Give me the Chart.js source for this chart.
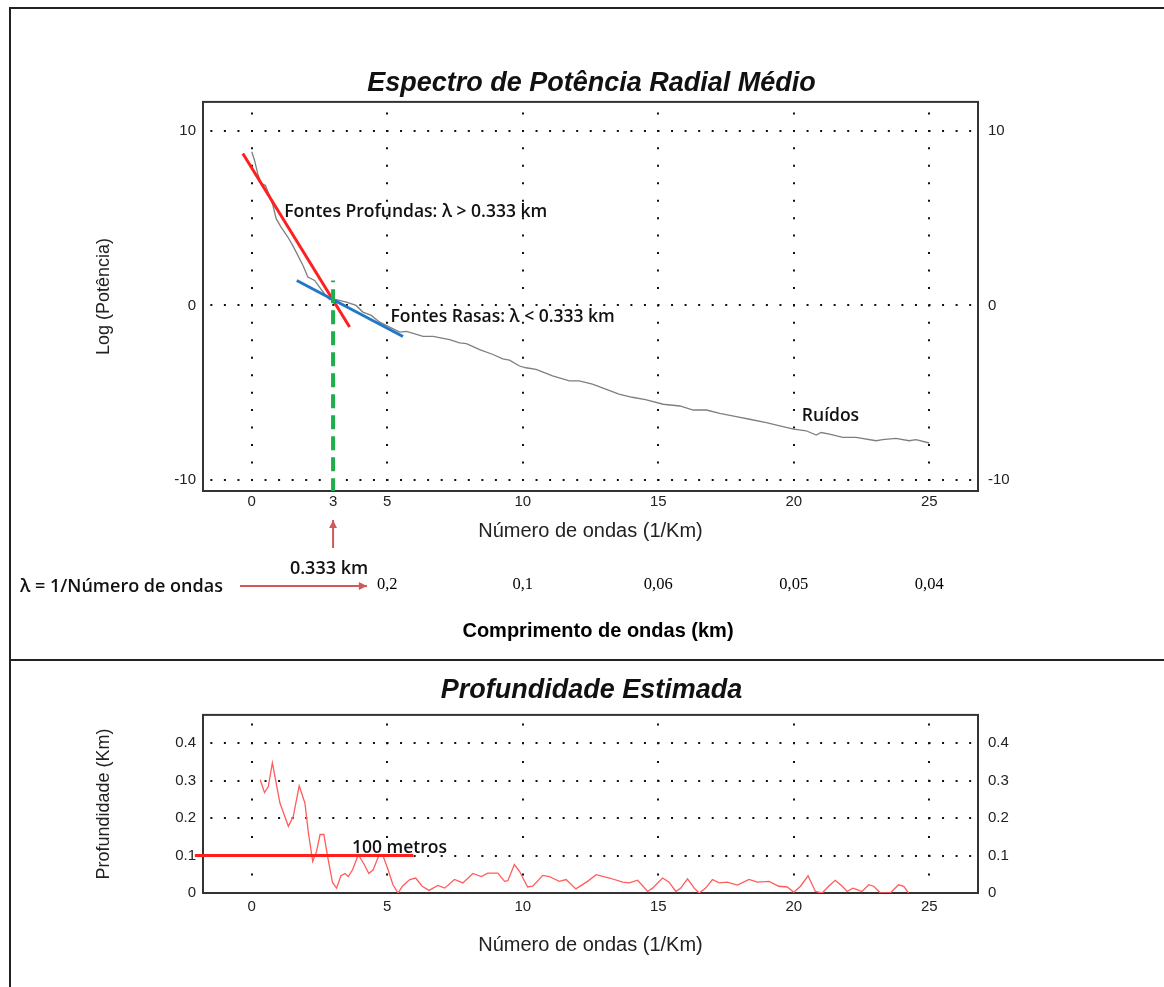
<!DOCTYPE html>
<html>
<head>
<meta charset="utf-8">
<script src="https://cdn.jsdelivr.net/npm/chart.js@4.4.1/dist/chart.umd.min.js"></script>
<style>
  body { margin: 0; background: #fff; }
  #page { position: relative; width: 1164px; height: 987px; overflow: hidden; background: #fff; }
  canvas { position: absolute; left: 0; }
  .rule { position: absolute; background: #222; }
</style>
</head>
<body>
<div id="page">
  <canvas id="spectrum" width="1164" height="658" style="top:0"></canvas>
  <canvas id="depth" width="1164" height="325" style="top:662px"></canvas>
  <div class="rule" style="left:10px;top:7px;width:1154px;height:2px"></div>
  <div class="rule" style="left:9px;top:7px;width:2px;height:980px"></div>
  <div class="rule" style="left:10px;top:659px;width:1154px;height:2px"></div>
</div>
<script>
// Espectro de potencia radial medio (log) x numero de ondas
const waveNumber = [0.0, 0.1, 0.22, 0.345, 0.5, 0.65, 0.78, 0.9, 1.08, 1.33, 1.51, 1.7, 1.89, 2.07, 2.32, 2.5, 2.68, 2.87, 3.12, 3.49,
  3.85, 4.1, 4.41, 4.72, 5.09, 5.46, 5.71, 6.32, 6.69, 7.3, 7.67, 7.92, 8.41, 8.9, 9.26, 9.51, 9.88, 10.12, 10.49, 11.1,
  11.72, 12.08, 12.57, 13.06, 13.55, 14.04, 14.53, 15.18, 15.8, 16.29, 16.78, 17.27, 17.88, 18.37, 18.99, 19.6, 20.0, 20.46, 20.83, 21.01,
  21.32, 21.81, 22.3, 23.04, 23.28, 23.77, 24.26, 24.51, 25.0];
const logPower = [8.8, 8.32, 7.55, 6.98, 6.88, 6.31, 5.74, 4.97, 4.49, 3.92, 3.44, 2.87, 2.29, 1.63, 1.43, 1.05, 0.67, 0.33, 0.33, 0.19,
  0.0, -0.38, -0.57, -0.96, -1.24, -1.53, -1.49, -1.77, -1.77, -1.96, -2.15, -2.19, -2.53, -2.81, -3.06, -3.13, -3.47, -3.57, -3.66, -4.04,
  -4.32, -4.32, -4.51, -4.79, -5.08, -5.26, -5.4, -5.66, -5.76, -5.99, -5.99, -6.18, -6.37, -6.52, -6.71, -6.94, -7.09, -7.18, -7.43, -7.28,
  -7.37, -7.56, -7.56, -7.75, -7.69, -7.62, -7.75, -7.69, -7.88];

// retas ajustadas e corte em 3 (1/km)
const deepFitX = [-0.33, 3.61];
const deepFitY = [8.7, -1.24];
const shallowFitX = [1.66, 5.58];
const shallowFitY = [1.43, -1.78];
const cutX = [3, 3];
const cutY = [-10.7, 1.43];

const spectrumTicksX = [0, 3, 5, 10, 15, 20, 25];
const spectrumTicksY = [-10, 0, 10];
const wavelengthAt = [5, 10, 15, 20, 25];
const wavelengthLabels = ['0,2', '0,1', '0,06', '0,05', '0,04'];

// Profundidade estimada
const depthX = [0.31, 0.47, 0.61, 0.76, 1.04, 1.35, 1.53, 1.75, 1.96, 2.09, 2.25, 2.39, 2.52, 2.66, 2.82, 2.98, 3.13, 3.29, 3.44, 3.56,
  3.72, 3.93, 4.15, 4.32, 4.48, 4.7, 4.85, 5.03, 5.21, 5.4, 5.56, 5.83, 6.05, 6.29, 6.54, 6.87, 7.12, 7.48, 7.79, 8.16,
  8.47, 8.71, 9.08, 9.33, 9.45, 9.69, 9.88, 10.18, 10.37, 10.74, 10.98, 11.35, 11.6, 11.96, 12.39, 12.71, 13.2, 13.69, 13.93, 14.24,
  14.61, 14.79, 15.16, 15.4, 15.65, 15.83, 16.08, 16.33, 16.51, 16.75, 17.0, 17.25, 17.55, 17.92, 18.35, 18.66, 19.09, 19.45, 19.76, 20.0,
  20.25, 20.53, 20.8, 21.05, 21.29, 21.53, 21.79, 21.97, 22.18, 22.34, 22.52, 22.77, 22.95, 23.2, 23.56, 23.87, 24.06, 24.24];
const depthY = [0.302, 0.268, 0.284, 0.347, 0.24, 0.178, 0.204, 0.286, 0.24, 0.16, 0.084, 0.111, 0.156, 0.156, 0.089, 0.028, 0.013, 0.046, 0.052, 0.044,
  0.062, 0.102, 0.076, 0.052, 0.062, 0.102, 0.098, 0.062, 0.022, 0.0, 0.018, 0.036, 0.04, 0.018, 0.007, 0.02, 0.013, 0.036, 0.027, 0.052,
  0.044, 0.053, 0.053, 0.031, 0.033, 0.076, 0.058, 0.016, 0.018, 0.047, 0.044, 0.031, 0.036, 0.011, 0.031, 0.049, 0.04, 0.029, 0.027, 0.034,
  0.004, 0.013, 0.04, 0.029, 0.004, 0.013, 0.038, 0.013, 0.0, 0.013, 0.036, 0.027, 0.029, 0.021, 0.036, 0.029, 0.031, 0.018, 0.016, 0.002,
  0.018, 0.046, 0.004, 0.0, 0.018, 0.034, 0.018, 0.004, 0.013, 0.009, 0.004, 0.022, 0.018, 0.0, 0.0, 0.022, 0.018, 0.0];
const limitX = [-2.1, 5.96];
const limitY = [0.1, 0.1];

const depthTicksX = [0, 5, 10, 15, 20, 25];
const depthTicksY = [0, 0.1, 0.2, 0.3, 0.4];

const pts = (xs, ys) => xs.map((x, i) => ({ x: x, y: ys[i] }));
const sans = "'Liberation Sans', Arial, sans-serif";
const note = '600 17.5px "Open Sans"';
const padLeft = 19; // desloca o titulo para o centro da figura

function xAxis(min, max, ticks, height, pad, dashGap, dashOffset) {
    return {
        type: 'linear', min: min, max: max,
        afterBuildTicks: s => { s.ticks = ticks.map(v => ({ value: v })); },
        afterFit: s => { s.height = height; },
        grid: {
            color: c => (c.tick && c.tick.value === 3) ? 'rgba(0,0,0,0)' : '#111',
            lineWidth: 2,
            drawTicks: false
        },
        border: { display: false, dash: [2, dashGap], dashOffset: dashOffset },
        ticks: { color: '#222', font: { family: sans, size: 15 }, padding: pad, callback: v => String(v) },
        title: { display: true, text: 'Número de ondas (1/Km)', color: '#222', font: { family: sans, size: 20 }, padding: 0 }
    };
}

function yAxis(min, max, ticks, side, label, dashGap, dashOffset) {
    const left = side === 'left';
    return {
        type: 'linear', position: side, min: min, max: max,
        afterBuildTicks: s => { s.ticks = ticks.map(v => ({ value: v })); },
        afterFit: s => { s.width = left ? 203 - padLeft : 186; },
        grid: { display: left, color: '#111', lineWidth: 2, drawTicks: false },
        border: { display: false, dash: [2, dashGap], dashOffset: dashOffset },
        ticks: { color: '#222', font: { family: sans, size: 15 }, padding: left ? 7 : 10, callback: v => String(v) },
        title: { display: left, text: label, color: '#222', font: { family: sans, size: 18 }, padding: { top: 93 - padLeft, bottom: 0 } }
    };
}

// moldura da area do grafico
const frame = {
    id: 'frame',
    beforeDatasetsDraw(chart) {
        const { ctx, chartArea: a } = chart;
        ctx.save();
        ctx.strokeStyle = '#333';
        ctx.lineWidth = 2;
        ctx.strokeRect(a.left, a.top, a.right - a.left, a.bottom - a.top);
        ctx.restore();
    }
};

function arrow(ctx, x1, y1, x2, y2) {
    const ang = Math.atan2(y2 - y1, x2 - x1), h = 9;
    ctx.beginPath();
    ctx.moveTo(x1, y1);
    ctx.lineTo(x2, y2);
    ctx.stroke();
    ctx.beginPath();
    ctx.moveTo(x2, y2);
    ctx.lineTo(x2 - h * Math.cos(ang - 0.45), y2 - h * Math.sin(ang - 0.45));
    ctx.lineTo(x2 - h * Math.cos(ang + 0.45), y2 - h * Math.sin(ang + 0.45));
    ctx.closePath();
    ctx.fill();
}

const spectrumNotes = {
    id: 'spectrumNotes',
    afterDraw(chart) {
        const ctx = chart.ctx, x = chart.scales.x, y = chart.scales.y;
        ctx.save();
        ctx.fillStyle = '#111';
        ctx.textBaseline = 'middle';
        ctx.font = note;
        ctx.fillText('Fontes Profundas: λ > 0.333 km', x.getPixelForValue(1.2), y.getPixelForValue(5.33));
        ctx.fillText('Fontes Rasas: λ < 0.333 km', x.getPixelForValue(5.12), y.getPixelForValue(-0.69));
        ctx.fillText('Ruídos', x.getPixelForValue(20.3), y.getPixelForValue(-6.36));

        // eixo de comprimento de onda, abaixo do grafico
        const b = chart.chartArea.bottom;
        ctx.font = '600 18px "Open Sans"';
        ctx.fillText('λ = 1/Número de ondas', 20, b + 96);
        ctx.textAlign = 'center';
        ctx.fillText('0.333 km', x.getPixelForValue(2.85), b + 78);
        ctx.fillStyle = '#000';
        ctx.font = '16.5px "Liberation Serif"';
        wavelengthAt.forEach((k, i) => ctx.fillText(wavelengthLabels[i], x.getPixelForValue(k), b + 94));
        ctx.font = 'bold 20px ' + sans;
        ctx.fillText('Comprimento de ondas (km)', 598, b + 140);

        ctx.strokeStyle = '#cf5a5a';
        ctx.fillStyle = '#cf5a5a';
        ctx.lineWidth = 2;
        const x3 = x.getPixelForValue(3);
        arrow(ctx, x3, b + 57, x3, b + 29);
        arrow(ctx, 240, b + 95, 367, b + 95);
        ctx.restore();
    }
};

const depthNotes = {
    id: 'depthNotes',
    afterDraw(chart) {
        const ctx = chart.ctx, x = chart.scales.x, y = chart.scales.y;
        ctx.save();
        ctx.fillStyle = '#111';
        ctx.textBaseline = 'middle';
        ctx.textAlign = 'center';
        ctx.font = note;
        ctx.fillText('100 metros', x.getPixelForValue(5.45), y.getPixelForValue(0.121));
        ctx.restore();
    }
};

const common = {
    responsive: false,
    animation: false,
    elements: { point: { radius: 0 }, line: { tension: 0 } }
};

new Chart(document.getElementById('spectrum'), {
    type: 'line',
    data: {
        datasets: [
            { data: pts(waveNumber, logPower), borderColor: '#7f7f7f', borderWidth: 1.3, order: 4 },
            { data: pts(deepFitX, deepFitY), borderColor: '#ff1f1f', borderWidth: 3, order: 3 },
            { data: pts(shallowFitX, shallowFitY), borderColor: '#1f78c8', borderWidth: 3, order: 2 },
            { data: pts(cutX, cutY), borderColor: '#1fae4b', borderWidth: 4, borderDash: [14, 7], order: 1 }
        ]
    },
    options: Object.assign({}, common, {
        layout: { padding: { left: padLeft, right: 0, top: 0, bottom: 115 } },
        scales: {
            x: xAxis(-1.8, 26.8, spectrumTicksX, 52, 2, 15.45, 6.9),
            y: yAxis(-10.63, 11.66, spectrumTicksY, 'left', 'Log (Potência)', 11.55, 6.2),
            y1: yAxis(-10.63, 11.66, spectrumTicksY, 'right', '', 11.55, 6.2)
        },
        plugins: {
            legend: { display: false },
            tooltip: { enabled: false },
            title: {
                display: true,
                text: 'Espectro de Potência Radial Médio',
                color: '#111',
                font: { family: sans, size: 27, weight: 'bold', style: 'italic' },
                padding: { top: 67.5, bottom: 2 }
            }
        }
    }),
    plugins: [frame, spectrumNotes]
});

new Chart(document.getElementById('depth'), {
    type: 'line',
    data: {
        datasets: [
            { data: pts(limitX, limitY), borderColor: '#ff1f1f', borderWidth: 3, clip: false, order: 1 },
            { data: pts(depthX, depthY), borderColor: '#ff5c5c', borderWidth: 1.3, order: 2 }
        ]
    },
    options: Object.assign({}, common, {
        layout: { padding: { left: padLeft, right: 0, top: 0, bottom: 30 } },
        scales: {
            x: xAxis(-1.8, 26.8, depthTicksX, 64, 5, 16.75, 10.15),
            y: yAxis(0, 0.475, depthTicksY, 'left', 'Profundidade (Km)', 11.55, 6.2),
            y1: yAxis(0, 0.475, depthTicksY, 'right', '', 11.55, 6.2)
        },
        plugins: {
            legend: { display: false },
            tooltip: { enabled: false },
            title: {
                display: true,
                text: 'Profundidade Estimada',
                color: '#111',
                font: { family: sans, size: 27, weight: 'bold', style: 'italic' },
                padding: { top: 12.5, bottom: 8 }
            }
        }
    }),
    plugins: [frame, depthNotes]
});
</script>
</body>
</html>
